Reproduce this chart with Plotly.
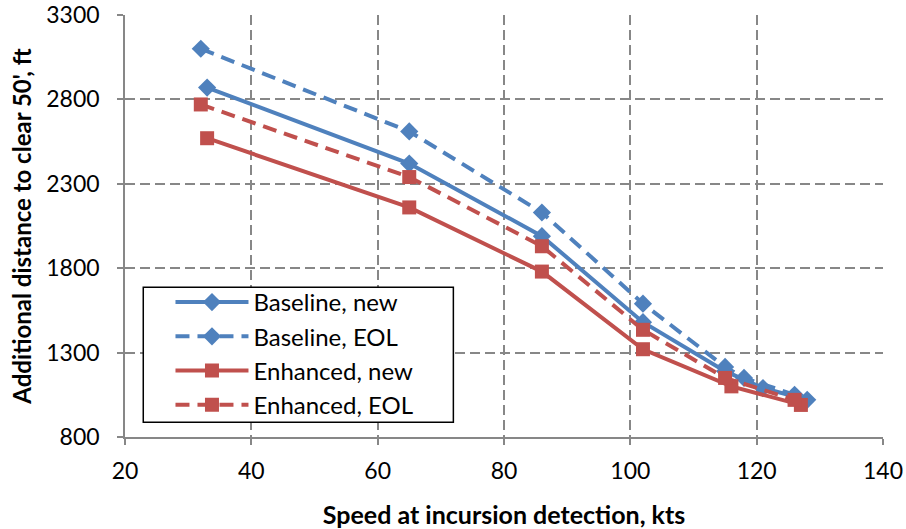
import plotly.graph_objects as go

# Data
bn_x = [33, 65, 86, 102, 115, 121, 128]
bn_y = [2870, 2420, 1990, 1480, 1190, 1090, 1020]

be_x = [32, 65, 86, 102, 115, 118, 126]
be_y = [3100, 2610, 2130, 1590, 1215, 1150, 1050]

en_x = [33, 65, 86, 102, 116, 127]
en_y = [2570, 2160, 1780, 1320, 1100, 990]

ee_x = [32, 65, 86, 102, 115, 126]
ee_y = [2770, 2340, 1930, 1435, 1150, 1020]

x_ticks = [20, 40, 60, 80, 100, 120, 140]
y_ticks = [800, 1300, 1800, 2300, 2800, 3300]

BLUE = "#4F81BD"
RED = "#C0504D"
GRID = "#878787"
FONT = "Lato"

fig = go.Figure()
fig.add_trace(go.Scatter(x=bn_x, y=bn_y, name="Baseline, new", mode="lines+markers",
                         line=dict(color=BLUE, width=4),
                         marker=dict(symbol="diamond", size=14, color=BLUE)))
fig.add_trace(go.Scatter(x=be_x, y=be_y, name="Baseline, EOL", mode="lines+markers",
                         line=dict(color=BLUE, width=4, dash="14px,8px"),
                         marker=dict(symbol="diamond", size=14, color=BLUE)))
fig.add_trace(go.Scatter(x=en_x, y=en_y, name="Enhanced, new", mode="lines+markers",
                         line=dict(color=RED, width=4),
                         marker=dict(symbol="square", size=14, color=RED)))
fig.add_trace(go.Scatter(x=ee_x, y=ee_y, name="Enhanced, EOL", mode="lines+markers",
                         line=dict(color=RED, width=4, dash="14px,8px"),
                         marker=dict(symbol="square", size=14, color=RED)))

# legend frame (opaque white box with black border, as in the reference)
fig.add_shape(type="rect", xref="paper", yref="paper",
              x0=0.0241, x1=0.4332, y0=0.0349, y1=0.355,
              line=dict(color="#000000", width=1.5), fillcolor="white", layer="above")

fig.update_layout(
    width=906, height=529,
    margin=dict(l=125, r=23, t=15, b=92, autoexpand=False),
    paper_bgcolor="white", plot_bgcolor="white",
    font=dict(family=FONT, size=23, color="#000000"),
    showlegend=True,
    legend=dict(x=0.060, y=0.372, xanchor="left", yanchor="top",
                bgcolor="rgba(0,0,0,0)", borderwidth=0,
                font=dict(family=FONT, size=24, color="#000000"),
                itemwidth=73, tracegroupgap=0),
    xaxis=dict(range=[20, 140], tickvals=x_ticks, ticktext=[str(v) for v in x_ticks],
               automargin=False, ticklabeloverflow="allow",
               showline=True, linecolor=GRID, linewidth=1.5,
               showgrid=True, gridcolor=GRID, gridwidth=1.5, griddash="10px,5px",
               ticks="outside", ticklen=6, tickcolor=GRID, tickwidth=1.5,
               ticklabelstandoff=7,
               zeroline=False,
               title=dict(text="<b>Speed at incursion detection, kts</b>",
                          font=dict(family=FONT, size=25), standoff=29)),
    yaxis=dict(range=[800, 3300], tickvals=y_ticks, ticktext=[str(v) for v in y_ticks],
               automargin=False, ticklabeloverflow="allow",
               showline=True, linecolor=GRID, linewidth=1.5,
               showgrid=True, gridcolor=GRID, gridwidth=1.5, griddash="10px,5px",
               ticks="outside", ticklen=6, tickcolor=GRID, tickwidth=1.5,
               ticklabelstandoff=13,
               zeroline=False,
               title=dict(text="<b>Additional distance to clear 50', ft</b>",
                          font=dict(family=FONT, size=24), standoff=8)),
)

# remove the page's default body margin so the 906x529 figure fills the window exactly
fig.write_html("out.html",
               config={"displayModeBar": False},
               post_script="document.body.style.margin='0';document.body.style.overflow='hidden';")
